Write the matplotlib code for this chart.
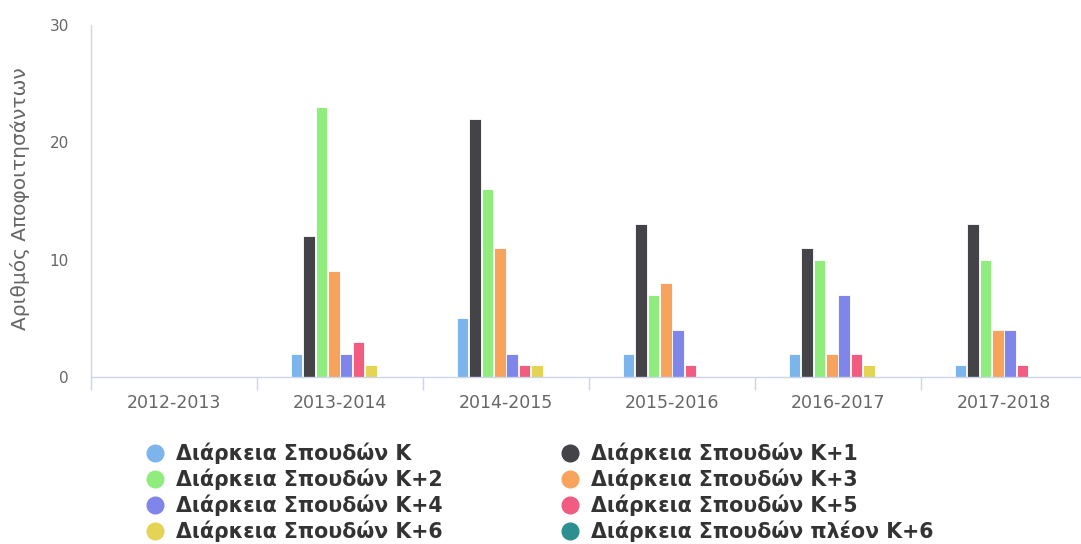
import matplotlib
matplotlib.use("Agg")
import matplotlib.pyplot as plt
from matplotlib.lines import Line2D
import numpy as np

plt.rcParams['font.family'] = ['DejaVu Sans']

categories = ["2012-2013", "2013-2014", "2014-2015", "2015-2016", "2016-2017", "2017-2018"]
series_names = ["Διάρκεια Σπουδών Κ", "Διάρκεια Σπουδών Κ+1", "Διάρκεια Σπουδών Κ+2",
                "Διάρκεια Σπουδών Κ+3", "Διάρκεια Σπουδών Κ+4", "Διάρκεια Σπουδών Κ+5",
                "Διάρκεια Σπουδών Κ+6", "Διάρκεια Σπουδών πλέον Κ+6"]
k0 = [0, 2, 5, 2, 2, 1]
k1 = [0, 12, 22, 13, 11, 13]
k2 = [0, 23, 16, 7, 10, 10]
k3 = [0, 9, 11, 8, 2, 4]
k4 = [0, 2, 2, 4, 7, 4]
k5 = [0, 3, 1, 1, 2, 1]
k6 = [0, 1, 1, 0, 1, 0]
k7 = [0, 0, 0, 0, 0, 0]
values = [k0, k1, k2, k3, k4, k5, k6, k7]
colors = ["#7cb5ec", "#434348", "#90ed7d", "#f7a35c", "#8085e9", "#f15c80", "#e4d354", "#2b908f"]
yticks = [0, 10, 20, 30]
ylabel = "Αριθμός Αποφοιτησάντων"

W, H = 1081, 544
fig = plt.figure(figsize=(W / 100, H / 100), dpi=100)
ax = fig.add_axes([91 / W, (H - 377) / H, 996 / W, 352 / H])

x = np.arange(len(categories))
slot = 0.075
bw = 0.07
for i, (vals, c) in enumerate(zip(values, colors)):
    pos = x - 0.3 + slot * (i + 0.5)
    v = np.array(vals, dtype=float)
    mask = v > 0
    ax.bar(pos[mask], v[mask], width=bw, color=c, edgecolor="white", linewidth=0.6)

ax.set_xlim(-0.5, len(categories) - 0.5)
ax.set_ylim(0, 30)
ax.set_yticks(yticks)
ax.set_yticklabels([str(t) for t in yticks])
ax.set_xticks(x)
ax.set_xticklabels(categories)
ax.set_xticks(np.arange(-0.5, len(categories), 1.0), minor=True)

axis_col = "#ccd6eb"
for s in ["top", "right"]:
    ax.spines[s].set_visible(False)
ax.spines["bottom"].set_color(axis_col)
ax.spines["left"].set_color(axis_col)
ax.spines["bottom"].set_linewidth(1.0)
ax.spines["left"].set_linewidth(1.0)

ax.tick_params(axis="x", which="major", length=0, pad=12, labelsize=12.5, labelcolor="#666666")
ax.tick_params(axis="x", which="minor", length=9, width=1, color=axis_col, direction="out")
ax.tick_params(axis="y", which="major", length=0, pad=16, labelsize=11, labelcolor="#666666")

fig.text(20 / W, 1 - 199 / H, ylabel, rotation=90, ha="center", va="center",
         fontsize=14.5, color="#666666")

# legend (two columns, row-major like the reference)
row_y = [453, 479, 505, 531]
col_marker_x = [155, 570]
col_text_x = [176, 591]
for i, (name, c) in enumerate(zip(series_names, colors)):
    r, cidx = i // 2, i % 2
    yy = 1 - row_y[r] / H
    fig.add_artist(Line2D([col_marker_x[cidx] / W], [yy], marker="o", markersize=12,
                          color=c, linestyle="none", transform=fig.transFigure))
    fig.text(col_text_x[cidx] / W, yy, name, ha="left", va="center", fontsize=14.8,
             fontweight="bold", color="#333333")

fig.savefig("out.png", dpi=100)
